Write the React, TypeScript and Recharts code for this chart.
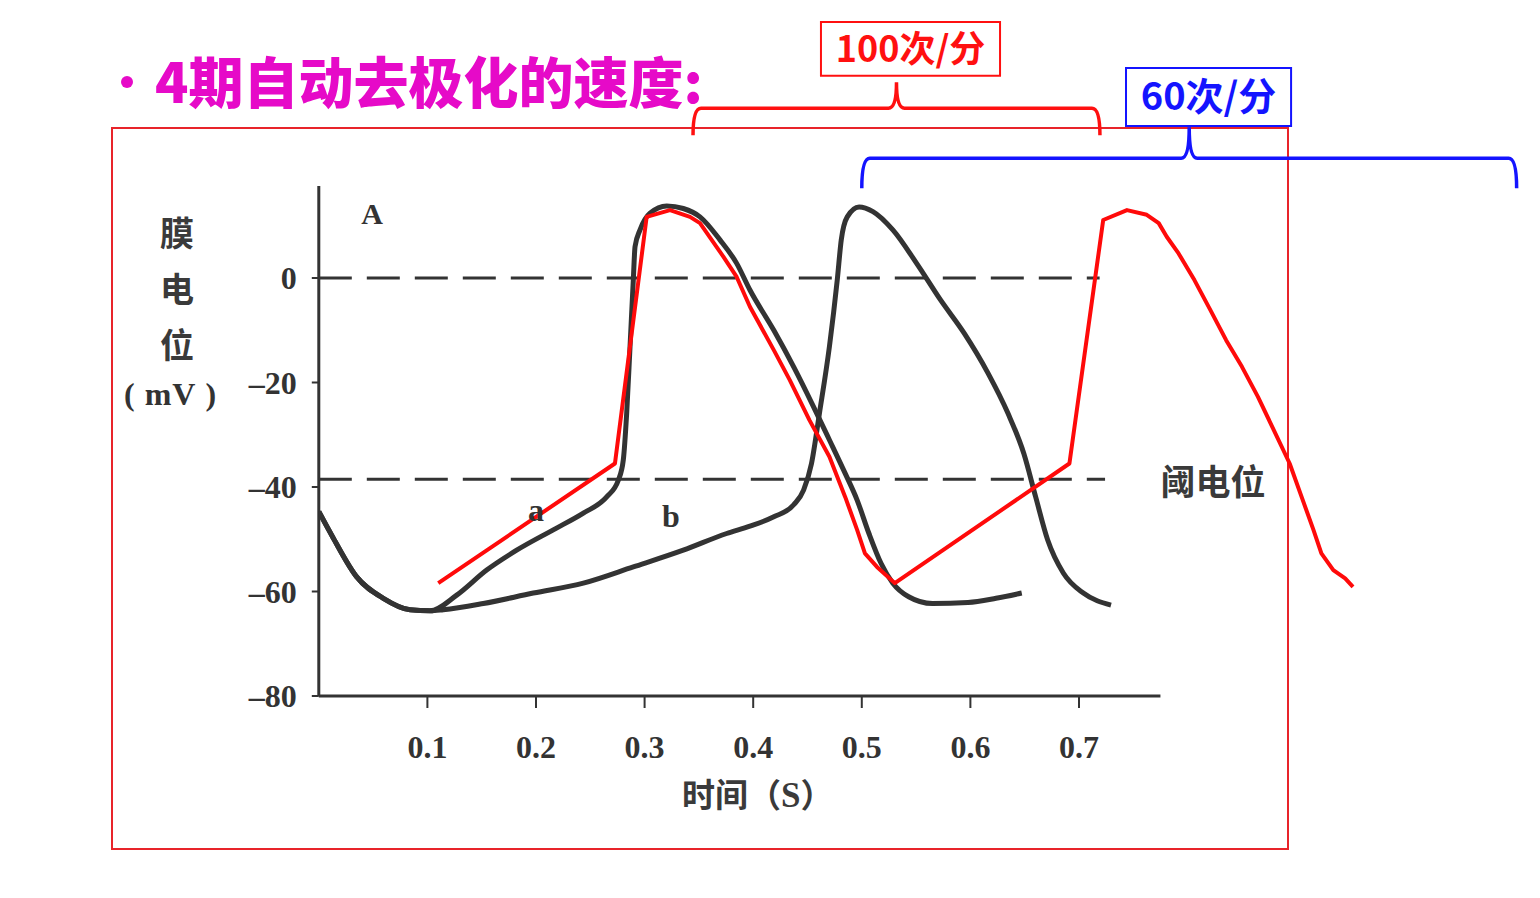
import { LineChart, Line, XAxis, YAxis, ReferenceLine, ReferenceArea, ReferenceDot } from 'recharts'

// time (s) / membrane potential (mV)
const curveATime = [0, 0.0134, 0.0349, 0.0594, 0.084, 0.1024, 0.127, 0.1546, 0.1822, 0.2159, 0.2436, 0.2651, 0.2758, 0.2804, 0.2835, 0.2866, 0.2896, 0.2912, 0.2958, 0.305, 0.3204, 0.3356, 0.351, 0.3694, 0.3848, 0.397, 0.419, 0.4373, 0.4555, 0.4702, 0.4847, 0.4957, 0.5066, 0.5177, 0.5286, 0.5432, 0.5651, 0.5978, 0.6236, 0.6473]
const curveAValue = [-44.7, -49.8, -57.2, -61.3, -63.5, -63.7, -60.7, -55.9, -52.1, -48.2, -45.0, -41.9, -38.7, -34.8, -25.9, -13.1, -0.4, 6.0, 9.2, 12.4, 13.8, 13.3, 11.7, 7.3, 2.8, -2.3, -10.0, -17.0, -24.6, -31.0, -37.4, -42.5, -48.9, -54.6, -58.4, -61.0, -62.3, -62.1, -61.3, -60.3]

const curveBTime = [0, 0.0134, 0.0349, 0.0594, 0.084, 0.1024, 0.1146, 0.1515, 0.1975, 0.2436, 0.2896, 0.3356, 0.3756, 0.397, 0.419, 0.4373, 0.4464, 0.4537, 0.461, 0.4702, 0.4774, 0.4811, 0.4866, 0.4975, 0.5103, 0.5286, 0.5505, 0.5725, 0.5944, 0.6162, 0.6346, 0.6492, 0.6601, 0.6711, 0.6857, 0.704, 0.7295]
const curveBValue = [-44.7, -49.8, -57.2, -61.3, -63.5, -63.7, -63.5, -62.3, -60.3, -58.4, -55.3, -52.1, -48.9, -47.5, -45.7, -43.4, -40.6, -35.5, -25.9, -13.1, -0.4, 7.3, 11.7, 13.6, 12.7, 9.2, 2.8, -4.2, -10.6, -18.2, -25.9, -33.6, -41.9, -50.1, -56.5, -60.3, -62.6]

// hand-drawn red overlay
const redTime = [0.11, 0.2727, 0.3019, 0.3234, 0.3418, 0.351, 0.3725, 0.3848, 0.397, 0.419, 0.4336, 0.4518, 0.4702, 0.4847, 0.4957, 0.5029, 0.514, 0.5304, 0.6912, 0.7223, 0.7442, 0.7624, 0.7734, 0.7808, 0.7917, 0.8063, 0.8209, 0.8355, 0.8501, 0.8647, 0.8794, 0.894, 0.905, 0.9159, 0.9232, 0.9342, 0.9451, 0.9523]
const redValue = [-58.4, -35.5, 11.7, 13.0, 11.7, 10.5, 4.1, 0.2, -5.5, -13.8, -19.5, -27.2, -34.2, -41.9, -48.2, -52.7, -55.3, -58.4, -35.5, 11.1, 13.0, 12.1, 10.5, 7.9, 4.7, -0.4, -6.1, -11.9, -17.0, -22.7, -29.1, -35.5, -41.9, -48.2, -52.7, -55.9, -57.5, -59.1]

const xTicks = [0.1, 0.2, 0.3, 0.4, 0.5, 0.6, 0.7]
const yTicks = [-80, -60, -40, -20, 0]
const thresholdValue = -38.5

const toRows = (ts: number[], vs: number[]) => ts.map((t, i) => ({ t, v: vs[i] }))
const curveA = toRows(curveATime, curveAValue)
const curveB = toRows(curveBTime, curveBValue)
const redCurve = toRows(redTime, redValue)

const INK = '#333333'
const serif = '"Liberation Serif", "DejaVu Serif", serif'
const cjk = '"Noto Sans CJK SC", "Noto Sans", sans-serif'

// bracket drawn between the two ends of a reference segment
const bracket = (color: string, depth: number, notch: number) => (props: any) => {
  const { x1, x2, y1 } = props
  const cx = (x1 + x2) / 2
  const r = 8
  const d = `M${x1},${y1 + depth} Q${x1},${y1} ${x1 + r},${y1} L${cx - r},${y1} Q${cx},${y1} ${cx},${y1 - notch} Q${cx},${y1} ${cx + r},${y1} L${x2 - r},${y1} Q${x2},${y1} ${x2},${y1 + depth}`
  return <path d={d} fill="none" stroke={color} strokeWidth={3.5} />
}

const tickStyle = { fill: INK, fontSize: 32, fontFamily: serif, fontWeight: 700 }

export default function App() {
  return (
    <div style={{ position: 'absolute', left: 0, top: 0, width: 1540, height: 898, background: '#fff', overflow: 'hidden' }}>
      <div style={{ position: 'absolute', left: 111, top: 127, width: 1174, height: 719, border: '2px solid #e8242a' }} />
      <div style={{ position: 'absolute', left: 121, top: 76, width: 12, height: 12, borderRadius: 6, background: '#e60ac8' }} />
      <div style={{ position: 'absolute', left: 155, top: 50, fontFamily: cjk, fontWeight: 900, fontSize: 55, lineHeight: '58px', color: '#e60ac8', whiteSpace: 'nowrap' }}>
        4期自动去极化的速度:
      </div>
      {['膜', '电', '位'].map((c, i) => (
        <div key={c} style={{ position: 'absolute', left: 160, top: 213 + i * 56, fontFamily: cjk, fontSize: 34, fontWeight: 700, lineHeight: '38px', color: '#3a3a3a' }}>{c}</div>
      ))}
      <div style={{ position: 'absolute', left: 124, top: 375, fontFamily: serif, fontSize: 32, fontWeight: 700, lineHeight: '38px', color: INK, whiteSpace: 'nowrap', letterSpacing: 1 }}>(&nbsp;mV&nbsp;)</div>
      <div style={{ position: 'absolute', left: 682, top: 773, fontFamily: cjk, fontSize: 33, fontWeight: 700, lineHeight: '40px', color: '#3a3a3a', whiteSpace: 'nowrap' }}>
        时间（<span style={{ fontFamily: serif, fontSize: 35 }}>S</span>）
      </div>
      <div style={{ position: 'absolute', left: 0, top: 0 }}>
        <LineChart width={1540} height={898} margin={{ top: 6.3, right: 4.9, bottom: 142, left: 258.8 }}>
          <XAxis
            type="number"
            dataKey="t"
            domain={[0, 1.12]}
            ticks={xTicks}
            allowDataOverflow
            axisLine={false}
            tickLine={{ stroke: INK, strokeWidth: 2 }}
            tickSize={12}
            tickMargin={27}
            height={60}
            tick={tickStyle}
          />
          <YAxis
            type="number"
            dataKey="v"
            domain={[-80, 52]}
            ticks={yTicks}
            allowDataOverflow
            axisLine={false}
            tickLine={{ stroke: INK, strokeWidth: 2 }}
            tickSize={7}
            tickMargin={15}
            width={60}
            tick={tickStyle}
            tickFormatter={(v: number) => (v < 0 ? `–${Math.abs(v)}` : `${v}`)}
          />
          <ReferenceLine segment={[{ x: 0, y: -80 }, { x: 0, y: 17.6 }]} stroke={INK} strokeWidth={3} />
          <ReferenceLine segment={[{ x: 0, y: -80 }, { x: 0.775, y: -80 }]} stroke={INK} strokeWidth={3} />
          <ReferenceLine segment={[{ x: 0, y: 0 }, { x: 0.719, y: 0 }]} stroke={INK} strokeWidth={3} strokeDasharray="33 15" />
          <ReferenceLine segment={[{ x: 0, y: thresholdValue }, { x: 0.724, y: thresholdValue }]} stroke={INK} strokeWidth={3} strokeDasharray="33 15" />

          <ReferenceDot x={0.049} y={12.4} r={0} fill="none" stroke="none" label={{ value: 'A', position: 'center', fill: INK, fontSize: 30, fontFamily: serif, fontWeight: 700 }} />
          <ReferenceDot x={0.2} y={-44.4} r={0} fill="none" stroke="none" label={{ value: 'a', position: 'center', fill: INK, fontSize: 32, fontFamily: serif, fontWeight: 700 }} />
          <ReferenceDot x={0.3243} y={-45.4} r={0} fill="none" stroke="none" label={{ value: 'b', position: 'center', fill: INK, fontSize: 32, fontFamily: serif, fontWeight: 700 }} />
          <ReferenceDot x={0.8234} y={-39.2} r={0} fill="none" stroke="none" label={{ value: '阈电位', position: 'center', fill: '#3a3a3a', fontSize: 35, fontFamily: cjk, fontWeight: 700 }} />

          <Line data={curveA} dataKey="v" type="monotone" stroke={INK} strokeWidth={5} dot={false} isAnimationActive={false} />
          <Line data={curveB} dataKey="v" type="monotone" stroke={INK} strokeWidth={5} dot={false} isAnimationActive={false} />
          <Line data={redCurve} dataKey="v" type="linear" stroke="#ff0a0a" strokeWidth={4} strokeLinejoin="round" dot={false} isAnimationActive={false} />

          <ReferenceLine segment={[{ x: 0.3446, y: 32.5 }, { x: 0.7193, y: 32.5 }]} shape={bracket('#ff1010', 27, 26)} />
          <ReferenceLine segment={[{ x: 0.5, y: 22.9 }, { x: 1.103, y: 22.9 }]} shape={bracket('#1414ff', 30, 31)} />
          <ReferenceArea x1={0.4624} x2={0.6273} y1={38.7} y2={49.0} fill="#fff" fillOpacity={1} stroke="#ff1010" strokeWidth={2}
            label={{ value: '100次/分', position: 'center', fill: '#ff1010', fontSize: 36, fontFamily: cjk, fontWeight: 700 }} />
          <ReferenceArea x1={0.7433} x2={0.8953} y1={29.1} y2={40.2} fill="#fff" fillOpacity={1} stroke="#1414ff" strokeWidth={2}
            label={{ value: '60次/分', position: 'center', fill: '#1414ff', fontSize: 38, fontFamily: cjk, fontWeight: 700 }} />
        </LineChart>
      </div>
    </div>
  )
}
